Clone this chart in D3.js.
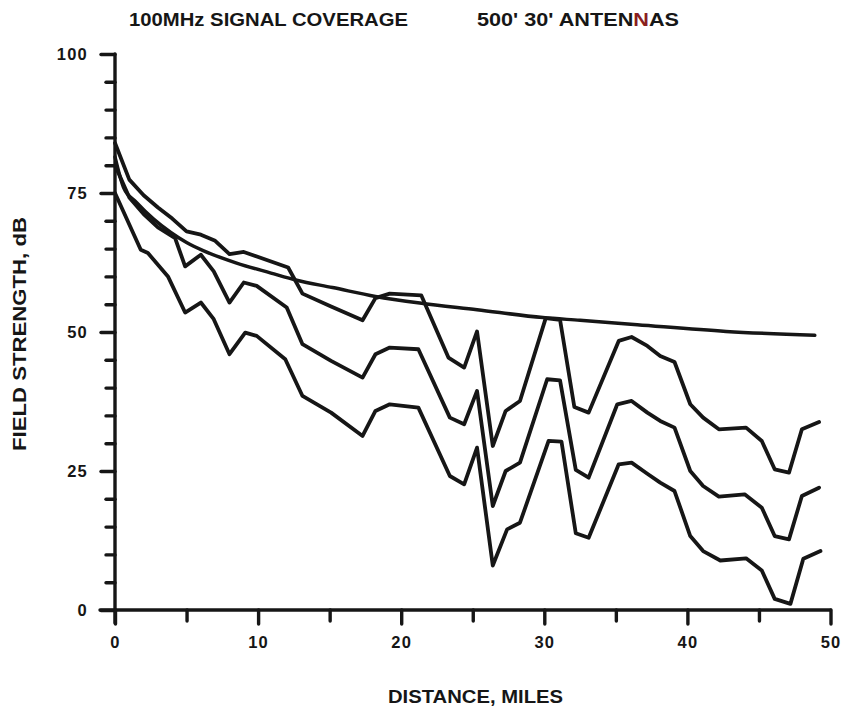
<!DOCTYPE html>
<html>
<head>
<meta charset="utf-8">
<script src="https://cdn.jsdelivr.net/npm/d3@7"></script>
<style>
body { margin: 0; background: #fff; }
text { font-family: "Liberation Sans", Arial, sans-serif; font-weight: bold; fill: #161616; }
</style>
</head>
<body>
<div id="chart"></div>
<script>
// labels
var titleA = "100MHz SIGNAL COVERAGE";
var titleB = ["500' 30' ANTEN", "N", "AS"];
var xTitle = "DISTANCE, MILES";
var yTitle = "FIELD STRENGTH, dB";
var xMajor = [0, 10, 20, 30, 40, 50];
var xMinor = [5, 15, 25, 35, 45];
var yMajor = [0, 25, 50, 75, 100];
var yMinor = [5, 10, 15, 20, 30, 35, 40, 45, 55, 60, 65, 70, 80, 85, 90, 95];

// smooth reference curve [miles, dB]
var smooth = [[0,81.5],[0.6,76],[1.5,73.3],[2.7,70.3],[3.9,67.9],[5,66.1],[6.2,64.6],[8.5,62.4],
  [10.9,60.6],[12.7,59.3],[15.2,58],[18.2,56.4],[21.3,55.2],[25.3,54],[29.9,52.6],[32.5,52.1],
  [36.5,51.3],[42.7,50.1],[48.9,49.4]];

// top jagged curve
var upper = [[0,84],[1,77.4],[2,74.6],[3,72.4],[4,70.4],[5,68.1],[6,67.5],[7,66.4],[8,64],[9,64.4],
  [12.1,61.6],[13.1,56.9],[15.1,54.6],[17.3,52.1],[18.2,56.1],[19.2,56.9],[21.4,56.6],[23.3,45.4],
  [24.4,43.6],[25.3,50.1],[26.4,29.5],[27.3,35.8],[28.3,37.6],[30.1,52.5],[31.1,52.2],[32.1,36.5],
  [33.1,35.5],[35.2,48.4],[36.1,49.1],[37.2,47.5],[38.1,45.7],[39.1,44.6],[40.2,37],[41.1,34.6],
  [42.2,32.5],[44.1,32.8],[45.2,30.4],[46.1,25.3],[47.1,24.7],[48,32.5],[49.2,33.8]];

// middle jagged curve
var middle = [[0,80],[1,74.2],[2,71.2],[3,68.8],[4.2,66.9],[4.9,61.8],[6,63.9],[6.9,60.9],[8,55.3],
  [9,58.9],[9.9,58.3],[12,54.4],[13.1,47.8],[15.1,44.8],[17.3,41.8],[18.2,46],[19.2,47.2],[21.2,46.9],
  [23.4,34.6],[24.4,33.4],[25.3,39.4],[26.4,18.7],[27.3,25],[28.3,26.5],[30.2,41.5],[31.1,41.3],
  [32.2,25.2],[33.1,23.8],[35.1,37],[36.1,37.6],[37.2,35.5],[38.1,34],[39.1,32.8],[40.2,25],
  [41.1,22.3],[42.2,20.4],[44,20.8],[45.2,18.4],[46.1,13.3],[47.1,12.7],[48,20.5],[49.2,22]];

// bottom jagged curve
var lower = [[0,75],[1.8,64.8],[2.3,64.2],[3.7,60],[4.9,53.5],[6,55.3],[6.9,52.3],[8,46],[9.1,49.9],
  [9.9,49.3],[11.9,45.1],[13.1,38.5],[15.1,35.5],[17.3,31.3],[18.2,35.8],[19.2,37],[21.2,36.4],
  [23.4,24.1],[24.4,22.6],[25.3,29.2],[26.4,8],[27.4,14.5],[28.3,15.7],[30.3,30.4],[31.2,30.3],
  [32.2,13.8],[33.1,13],[35.2,26.2],[36.1,26.5],[37.2,24.5],[38.1,22.9],[39.1,21.4],[40.2,13.3],
  [41.1,10.6],[42.3,8.9],[44.1,9.3],[45.2,7.1],[46.1,2],[47.2,1.1],[48.1,9.2],[49.3,10.6]];

var ink = "#161616";

var svg = d3.select("#chart")
            .append("svg")
            .attr("width", 843)
            .attr("height", 707);

var x = d3.scaleLinear().domain([0, 50]).range([115, 830.5]);
var y = d3.scaleLinear().domain([0, 100]).range([610, 54]);

// axis lines, drawn so they cross at the origin
svg.append("line")
   .attr("x1", x(0)).attr("x2", x(0))
   .attr("y1", y(100)).attr("y2", y(0) + 13)
   .attr("stroke", ink).attr("stroke-width", 3.4).attr("stroke-linecap", "round");
svg.append("line")
   .attr("x1", x(0) - 15).attr("x2", x(50))
   .attr("y1", y(0)).attr("y2", y(0))
   .attr("stroke", ink).attr("stroke-width", 3.4).attr("stroke-linecap", "round");

function styleAxis(g){
    g.select(".domain").remove();
    g.selectAll(".tick line")
     .attr("stroke", ink)
     .attr("stroke-width", 3.4)
     .attr("stroke-linecap", "round");
    g.selectAll(".tick text")
     .attr("fill", ink)
     .style("font-size", "16.5px")
     .style("letter-spacing", "1.2px");
}

svg.append("g")
   .attr("transform", "translate(" + x(0) + ",0)")
   .call(d3.axisLeft(y).tickValues(yMinor).tickSize(9).tickFormat(""))
   .call(styleAxis);
svg.append("g")
   .attr("transform", "translate(" + x(0) + ",0)")
   .call(d3.axisLeft(y).tickValues(yMajor).tickSize(14).tickPadding(13))
   .call(styleAxis);

svg.append("g")
   .attr("transform", "translate(0," + y(0) + ")")
   .call(d3.axisBottom(x).tickValues(xMinor).tickSize(11).tickFormat(""))
   .call(styleAxis);
svg.append("g")
   .attr("transform", "translate(0," + y(0) + ")")
   .call(d3.axisBottom(x).tickValues(xMajor).tickSize(14).tickPadding(12))
   .call(styleAxis);

// curves
var jagged = d3.line()
               .x(function(d){ return x(d[0]); })
               .y(function(d){ return y(d[1]); });
var curved = d3.line()
               .curve(d3.curveMonotoneX)
               .x(function(d){ return x(d[0]); })
               .y(function(d){ return y(d[1]); });

[upper, middle, lower].forEach(function(s){
    svg.append("path")
       .attr("d", jagged(s))
       .attr("fill", "none")
       .attr("stroke", ink)
       .attr("stroke-width", 3.8)
       .attr("stroke-linejoin", "round")
       .attr("stroke-linecap", "round");
});
svg.append("path")
   .attr("d", curved(smooth))
   .attr("fill", "none")
   .attr("stroke", ink)
   .attr("stroke-width", 3.5)
   .attr("stroke-linecap", "round");

// titles
svg.append("text")
   .attr("x", 129).attr("y", 26)
   .attr("textLength", 279).attr("lengthAdjust", "spacingAndGlyphs")
   .style("font-size", "18px")
   .text(titleA);

var tb = svg.append("text")
            .attr("x", 477).attr("y", 26)
            .attr("textLength", 202).attr("lengthAdjust", "spacingAndGlyphs")
            .style("font-size", "18px");
tb.append("tspan").text(titleB[0]);
tb.append("tspan").style("fill", "#8a1f1f").text(titleB[1]);
tb.append("tspan").text(titleB[2]);

svg.append("text")
   .attr("x", 475.5).attr("y", 703)
   .attr("text-anchor", "middle")
   .attr("textLength", 175).attr("lengthAdjust", "spacingAndGlyphs")
   .style("font-size", "18px")
   .text(xTitle);

svg.append("text")
   .attr("transform", "translate(26,334) rotate(-90)")
   .attr("text-anchor", "middle")
   .attr("textLength", 234).attr("lengthAdjust", "spacingAndGlyphs")
   .style("font-size", "18px")
   .text(yTitle);
</script>
</body>
</html>
